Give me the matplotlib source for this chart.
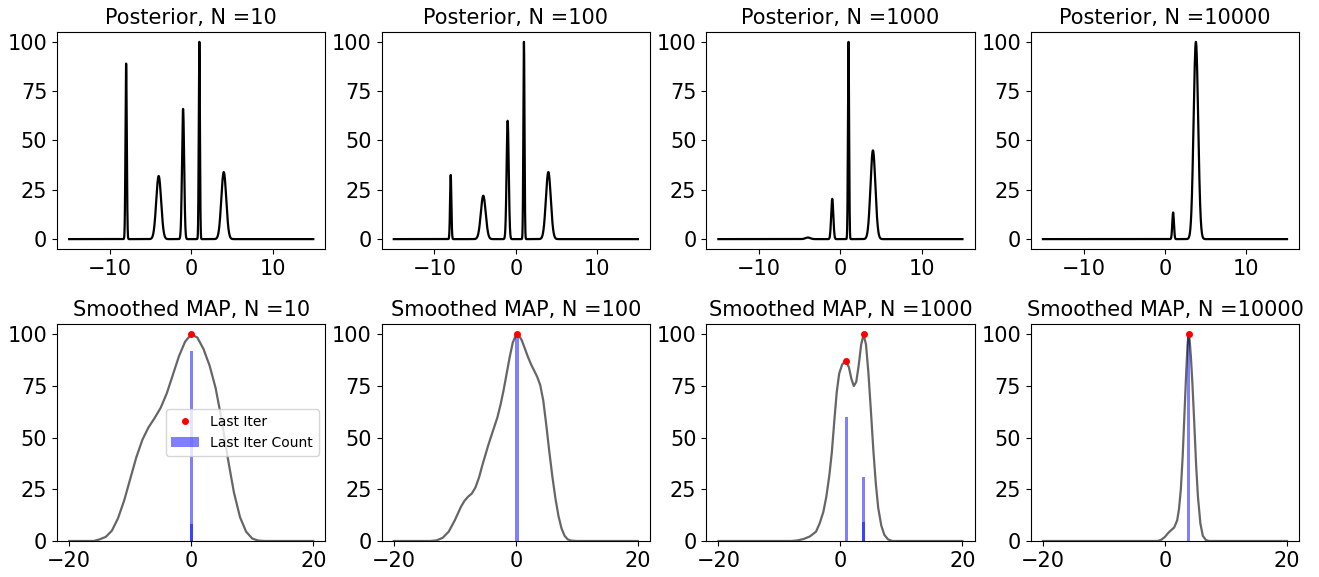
import numpy as np
import matplotlib.pyplot as plt

sizes = [10, 100, 1000, 10000]

# posterior peaks per panel: centre, height, width
post_centers = [
    [-8, -4, -1, 1, 4],
    [-8, -4, -1, 1, 4],
    [-4, -1, 1, 4],
    [1, 3.8],
]
post_heights = [
    [89, 32, 66, 100, 34],
    [32.5, 22, 60, 100, 34],
    [0.8, 20.4, 100, 45],
    [13.5, 100],
]
post_widths = [
    [0.08, 0.3, 0.13, 0.07, 0.3],
    [0.08, 0.3, 0.13, 0.07, 0.3],
    [0.3, 0.13, 0.07, 0.3],
    [0.1, 0.28],
]

# smoothed MAP curves, points
smooth_x_10 = [-20, -16, -15, -14, -13, -12, -11, -10, -9, -8, -7, -6, -5, -4, -3, -2,
               -1, 0, 1, 2, 3, 4, 5, 6, 7, 8, 9, 10, 11, 12, 16, 20]
smooth_y_10 = [0, 0, 0.8, 2, 5, 11, 19.5, 30, 40.5, 49, 55, 59.5, 64.5, 71.5, 80.5, 89.5,
               96.5, 100, 98.5, 93, 85, 74, 58.5, 40, 23.5, 11.5, 4.5, 1.2, 0.2, 0, 0, 0]

smooth_x_100 = [-20, -14, -13, -12, -11, -10, -9, -8.4, -7.8, -7.2, -6.6, -6, -5.5, -5,
                -4.5, -4, -3.5, -3, -2.5, -2, -1.5, -1, -0.5, 0, 0.2, 0.6, 1, 1.5, 2,
                2.5, 3, 3.5, 4, 4.5, 5, 5.5, 6, 6.5, 7, 7.5, 8, 8.5, 9, 10, 20]
smooth_y_100 = [0, 0, 0.3, 1.5, 4.5, 10, 16.5, 19.5, 21.5, 23, 26, 31, 36.5, 41.5,
                46.5, 51, 55.5, 60, 66, 73, 81, 89, 96, 99.5, 100, 99, 97, 93, 89,
                85.5, 82.5, 79.5, 75.5, 68, 56, 43, 31, 20.5, 12, 6, 2.5, 0.8, 0.2, 0, 0]

smooth_x_1000 = [-20, -8, -7, -6, -5, -4, -3.4, -2.8, -2.3, -1.8, -1.4, -1.0, -0.6,
                 -0.2, 0.3, 0.93, 1.4, 1.8, 2.2, 2.6, 3.0, 3.4, 3.8, 4.2, 4.6, 5.0,
                 5.4, 5.8, 6.2, 6.7, 7.2, 7.8, 8.5, 20]
smooth_y_1000 = [0, 0, 0.3, 1, 2.2, 4.5, 8.5, 14, 21.5, 32, 43, 58, 72, 81, 85.5, 87,
                 84, 78.5, 75, 77, 85, 95, 100, 95, 81, 63, 44, 28, 16, 7.5, 3, 0.8, 0, 0]

smooth_x_10000 = [-20, -1.2, -0.6, 0, 0.5, 1.0, 1.5, 2.0, 2.3, 2.6, 2.9, 3.2, 3.5,
                  3.7, 3.87, 4.05, 4.25, 4.5, 4.8, 5.1, 5.4, 5.8, 6.2, 6.7, 7.2, 20]
smooth_y_10000 = [0, 0, 0.6, 2, 3.8, 5.2, 6.5, 10, 15.5, 25, 41, 62, 83, 95, 100, 97,
                  89, 76, 57, 37, 21.5, 8.5, 2.5, 0.5, 0, 0]

smooth_x = [smooth_x_10, smooth_x_100, smooth_x_1000, smooth_x_10000]
smooth_y = [smooth_y_10, smooth_y_100, smooth_y_1000, smooth_y_10000]

# local maxima of the smoothed curves (red dots)
map_x = [[0], [0.2], [0.93, 3.8], [3.87]]
map_y = [[100], [100], [87, 100], [100]]

# last iteration counts (blue bars)
bar_x = [[0, 0], [0.2], [0.93, 3.8, 3.8], [3.87]]
bar_h = [[92, 8], [99], [60, 31, 9], [99.5]]

xs = np.linspace(-15, 15, 3001)

fig, axes = plt.subplots(2, 4, figsize=(13.19, 5.77), dpi=100)
plt.subplots_adjust(left=0.0432, right=0.985, top=0.9445, bottom=0.0624,
                    wspace=0.209, hspace=0.346)

for i, n in enumerate(sizes):
    ax = axes[0, i]
    post = np.zeros_like(xs)
    for c, h, w in zip(post_centers[i], post_heights[i], post_widths[i]):
        post += h * np.exp(-0.5 * ((xs - c) / w) ** 2)
    ax.plot(xs, post, color="black", lw=1.6)
    ax.set_title(f"Posterior, N ={n}", fontsize=15)
    ax.set_yticks([0, 25, 50, 75, 100])
    ax.tick_params(labelsize=15)

    ax = axes[1, i]
    ax.plot(smooth_x[i], smooth_y[i], color="black", alpha=0.6, lw=1.6)
    bars = ax.bar(bar_x[i], bar_h[i], width=0.5, color="blue", alpha=0.5,
                  label="Last Iter Count")
    dots, = ax.plot(map_x[i], map_y[i], "o", color="red", ms=4, label="Last Iter")
    ax.set_xlim(-22, 22)
    ax.set_ylim(0, 105)
    ax.set_xticks([-20, 0, 20])
    ax.set_yticks([0, 25, 50, 75, 100])
    ax.set_title(f"Smoothed MAP, N ={n}", fontsize=15)
    ax.tick_params(labelsize=15)
    if i == 0:
        ax.legend(handles=[dots, bars], loc="center right", fontsize=10)

plt.savefig("out.png")
